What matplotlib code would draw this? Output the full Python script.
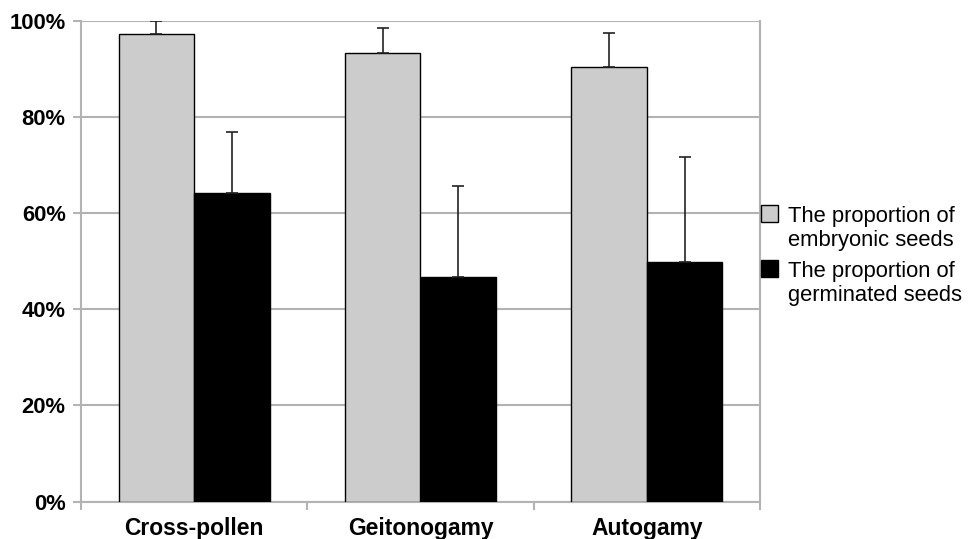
import numpy as np
import matplotlib.pyplot as plt
from matplotlib.patches import Rectangle
from matplotlib.container import BarContainer
from matplotlib.legend_handler import HandlerPatch, update_from_first_child
from matplotlib.ticker import FixedLocator, PercentFormatter

plt.rcParams['font.family'] = ['Liberation Sans', 'DejaVu Sans']

# dane
grupy = ['Cross-pollen', 'Geitonogamy', 'Autogamy']
zarodkowe = [97.2, 93.4, 90.5]
zarodkowe_err = [2.8, 5.1, 7.0]
kielkujace = [64.1, 46.7, 49.8]
kielkujace_err = [12.7, 19.0, 22.0]
etykiety = ['The proportion of\nembryonic seeds', 'The proportion of\ngerminated seeds']

szary = '#cccccc'
linia = '#b3b3b3'

fig = plt.figure(figsize=(9.68, 5.39), dpi=100)
ax = fig.add_axes([81/968, 1-501.5/539, (760-81)/968, (501.5-21)/539])

x = np.arange(len(grupy))
w = 1/3
ax.bar(x - w/2, zarodkowe, w, color=szary, edgecolor='black', linewidth=1,
       label=etykiety[0], zorder=3)
ax.bar(x + w/2, kielkujace, w, color='black', edgecolor='black', linewidth=1,
       label=etykiety[1], zorder=3)
ax.errorbar(x - w/2, zarodkowe, yerr=[np.zeros(3), zarodkowe_err], fmt='none',
            ecolor='#222222', elinewidth=1.2, capsize=6*0.72, capthick=1.2, zorder=4)
ax.errorbar(x + w/2, kielkujace, yerr=[np.zeros(3), kielkujace_err], fmt='none',
            ecolor='#222222', elinewidth=1.2, capsize=6*0.72, capthick=1.2, zorder=4)

ax.set_xlim(-0.5, 2.5)
ax.set_ylim(0, 100)
ax.set_yticks(np.arange(0, 101, 20))
ax.yaxis.set_major_formatter(PercentFormatter(decimals=0))
ax.set_xticks(x)
ax.set_xticklabels(grupy)
ax.xaxis.set_minor_locator(FixedLocator([-0.5, 0.5, 1.5, 2.5]))

ax.grid(axis='y', color=linia, linewidth=1.5, zorder=0)
ax.spines['top'].set_visible(False)
for s in ['left', 'right', 'bottom']:
    ax.spines[s].set_color(linia)
    ax.spines[s].set_linewidth(1.5)

ax.tick_params(axis='y', length=6, width=1.5, color=linia, pad=5, labelsize=15.8)
ax.tick_params(axis='x', which='major', length=0, pad=11, labelsize=16.5)
ax.tick_params(axis='x', which='minor', length=6, width=1.5, color=linia)
for t in ax.get_xticklabels() + ax.get_yticklabels():
    t.set_fontweight('bold')


# kwadracik legendy przy pierwszej linii opisu
def kwadrat(legend, orig_handle, xdescent, ydescent, width, height, fontsize):
    a = 0.78 * fontsize
    return Rectangle((-xdescent, -ydescent + height - a + 0.3 * fontsize), a, a)


fig.legend(loc='upper left', bbox_to_anchor=(761/968, 1-206/539), frameon=False,
           fontsize=15.8, handlelength=0.78, handleheight=2.2, handletextpad=0.45,
           labelspacing=0.45, borderpad=0, borderaxespad=0,
           handler_map={BarContainer: HandlerPatch(patch_func=kwadrat,
                                                   update_func=update_from_first_child)})

plt.savefig('out.png', dpi=100)
